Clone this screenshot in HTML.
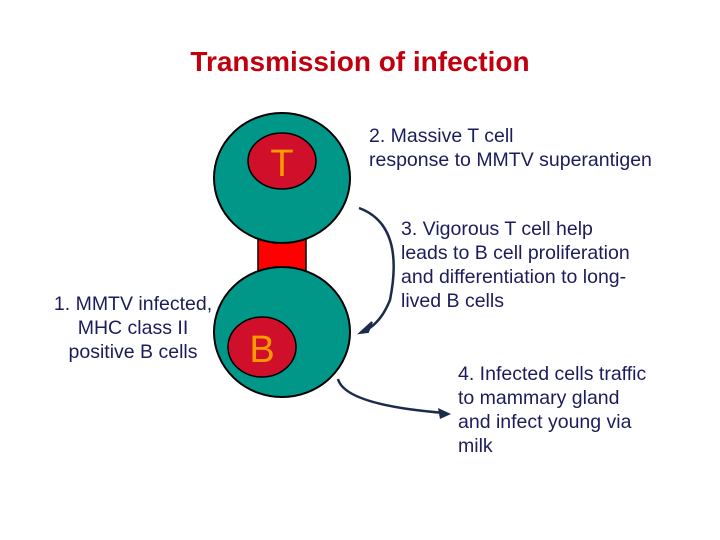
<!DOCTYPE html>
<html><head><style>
body{margin:0;width:720px;height:540px;background:#fff;position:relative;overflow:hidden;font-family:"Liberation Sans",sans-serif}
.t{position:absolute;color:#1c1c5c;font-size:19.5px;line-height:24px;white-space:nowrap}
</style></head><body>
<div style="position:absolute;left:0;width:720px;top:46px;text-align:center;font-size:28px;font-weight:bold;color:#c0000f">Transmission of infection</div>
<svg width="720" height="540" style="position:absolute;left:0;top:0">
<rect x="258" y="232" width="48" height="42" fill="#ff0000" stroke="#000" stroke-width="1.5"/>
<ellipse cx="282" cy="178" rx="68" ry="65" fill="#009688" stroke="#000" stroke-width="2"/>
<ellipse cx="282" cy="332" rx="68" ry="65" fill="#009688" stroke="#000" stroke-width="2"/>
<ellipse cx="282" cy="161" rx="34" ry="28" fill="#d0102a" stroke="#000" stroke-width="1.5"/>
<ellipse cx="262" cy="347" rx="34" ry="30" fill="#d0102a" stroke="#000" stroke-width="1.5"/>
<text x="282" y="176" text-anchor="middle" font-size="38" fill="#ff9900" font-family="Liberation Sans">T</text>
<text x="262" y="362" text-anchor="middle" font-size="38" fill="#ff9900" font-family="Liberation Sans">B</text>
<path d="M359 208 Q405 225 390 300 Q380 325 362 332" fill="none" stroke="#1c2a4c" stroke-width="2.5"/>
<path d="M360 333 L372 322 L368 332 Z" fill="#1c2a4c" stroke="#1c2a4c" stroke-width="2"/>
<path d="M338 379 Q345 405 445 413" fill="none" stroke="#1c2a4c" stroke-width="2.5"/>
<path d="M451 414 L438 408 L440 419 Z" fill="#1c2a4c"/>
</svg>
<div class="t" style="left:369px;top:124px">2. Massive T cell<br>response to MMTV superantigen</div>
<div class="t" style="left:401px;top:217px">3. Vigorous T cell help<br>leads to B cell proliferation<br>and differentiation to long-<br>lived B cells</div>
<div class="t" style="left:458px;top:362px">4. Infected cells traffic<br>to mammary gland<br>and infect young via<br>milk</div>
<div class="t" style="left:33px;top:292px;width:200px;text-align:center">1. MMTV infected,<br>MHC class II<br>positive B cells</div>
</body></html>
